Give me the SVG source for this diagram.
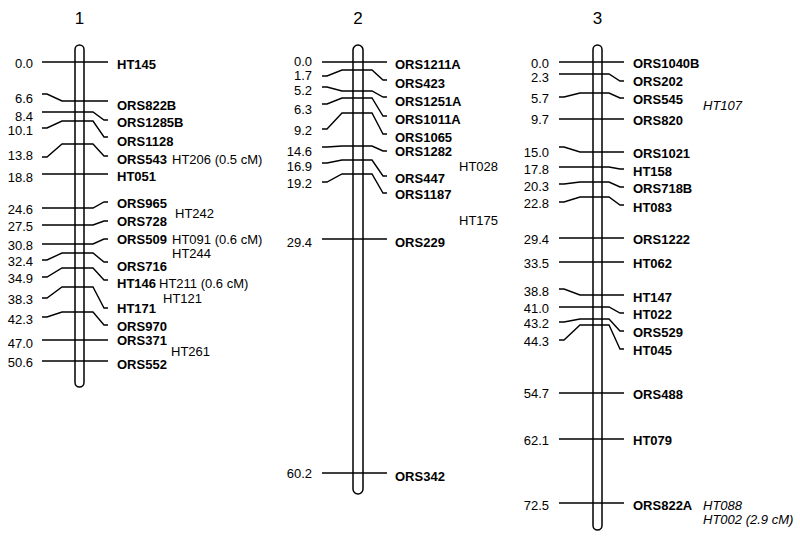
<svg xmlns="http://www.w3.org/2000/svg" width="800" height="536" viewBox="0 0 800 536">
<style>
text{font-family:"Liberation Sans",Arial,sans-serif;font-size:13px;fill:#000}
.t{font-size:17px;text-anchor:middle}
.v{text-anchor:end}
.n{font-weight:bold}
.i{font-style:italic}
.bar{fill:#fff;stroke:#000;stroke-width:1.5}
.ln{fill:none;stroke:#000;stroke-width:1.4}
</style>
<rect width="800" height="536" fill="#fff"/>
<g id="chr1">
<text class="t" x="79.5" y="24">1</text>
<rect class="bar" x="75" y="45" width="9" height="342" rx="4.5"/>
</g>
<g id="chr2">
<text class="t" x="358" y="24">2</text>
<rect class="bar" x="353" y="45" width="10" height="449" rx="5"/>
</g>
<g id="chr3">
<text class="t" x="597.5" y="24">3</text>
<rect class="bar" x="593" y="45" width="9" height="485" rx="4.5"/>
</g>
<g id="connectors">
<path class="ln" d="M42,62H108"/>
<path class="ln" d="M42,94H47L62,101H108"/>
<path class="ln" d="M42,112H93L104,120H108"/>
<path class="ln" d="M42,128H47L62,121H93L104,137H108"/>
<path class="ln" d="M42,157H47L62,144H93L104,156H108"/>
<path class="ln" d="M42,174H108"/>
<path class="ln" d="M42,208H93L104,202H108"/>
<path class="ln" d="M42,225H93L104,221H108"/>
<path class="ln" d="M42,244H93L104,239H108"/>
<path class="ln" d="M42,260H47L62,253H93L104,262H108"/>
<path class="ln" d="M42,277H47L62,268H93L104,280H108"/>
<path class="ln" d="M42,298H47L62,287H93L104,308H108"/>
<path class="ln" d="M42,317H47L62,312H93L104,325H108"/>
<path class="ln" d="M42,340H108"/>
<path class="ln" d="M42,361H108"/>

<path class="ln" d="M322,62H387"/>
<path class="ln" d="M322,76H327L342,70H372L383,80H387"/>
<path class="ln" d="M322,87H327L342,91H372L383,97H387"/>
<path class="ln" d="M322,104H327L342,98H372L383,116H387"/>
<path class="ln" d="M322,129H327L342,113H372L383,134H387"/>
<path class="ln" d="M322,147H327L342,146H372L383,151H387"/>
<path class="ln" d="M322,163H327L342,160H372L383,176H387"/>
<path class="ln" d="M322,182H327L342,174H372L383,193H387"/>
<path class="ln" d="M322,239H387"/>
<path class="ln" d="M322,473H387"/>

<path class="ln" d="M559,62H624"/>
<path class="ln" d="M559,74H609L620,81H624"/>
<path class="ln" d="M559,97H564L580,93H609L620,98H624"/>
<path class="ln" d="M559,119H624"/>
<path class="ln" d="M559,147H564L580,152H624"/>
<path class="ln" d="M559,167H609L620,169H624"/>
<path class="ln" d="M559,184H564L580,182H609L620,187H624"/>
<path class="ln" d="M559,202H564L580,197H609L620,205H624"/>
<path class="ln" d="M559,238H624"/>
<path class="ln" d="M559,262H624"/>
<path class="ln" d="M559,289H564L580,295H624"/>
<path class="ln" d="M559,307H609L620,313H624"/>
<path class="ln" d="M559,322H564L580,319H609L620,331H624"/>
<path class="ln" d="M559,340H564L580,325H609L620,349H624"/>
<path class="ln" d="M559,393H624"/>
<path class="ln" d="M559,439H624"/>
<path class="ln" d="M559,503H624"/>
</g>
<g id="labels1">
<text class="v" x="33" y="67.5">0.0</text>
<text class="v" x="33" y="102.5">6.6</text>
<text class="v" x="33" y="120.5">8.4</text>
<text class="v" x="33" y="134.5">10.1</text>
<text class="v" x="33" y="159.5">13.8</text>
<text class="v" x="33" y="181.5">18.8</text>
<text class="v" x="33" y="213.5">24.6</text>
<text class="v" x="33" y="230.5">27.5</text>
<text class="v" x="33" y="249.5">30.8</text>
<text class="v" x="33" y="265.5">32.4</text>
<text class="v" x="33" y="282.5">34.9</text>
<text class="v" x="33" y="303.5">38.3</text>
<text class="v" x="33" y="323.5">42.3</text>
<text class="v" x="33" y="347.5">47.0</text>
<text class="v" x="33" y="366.5">50.6</text>
<text class="n" x="117" y="68.5">HT145</text>
<text class="n" x="117" y="109.5">ORS822B</text>
<text class="n" x="117" y="126.5">ORS1285B</text>
<text class="n" x="117" y="145.5">ORS1128</text>
<text class="n" x="117" y="163.5">ORS543</text>
<text x="172" y="163.5">HT206 (0.5 cM)</text>
<text class="n" x="117" y="180.5">HT051</text>
<text class="n" x="117" y="207.5">ORS965</text>
<text x="175" y="217.5">HT242</text>
<text class="n" x="117" y="225.5">ORS728</text>
<text class="n" x="117" y="243.5">ORS509</text>
<text x="172" y="243.5">HT091 (0.6 cM)</text>
<text x="172" y="257.5">HT244</text>
<text class="n" x="117" y="270.5">ORS716</text>
<text class="n" x="117" y="287.5">HT146</text>
<text x="159" y="287.5">HT211 (0.6 cM)</text>
<text x="163" y="302.5">HT121</text>
<text class="n" x="117" y="312.5">HT171</text>
<text class="n" x="117" y="330.5">ORS970</text>
<text class="n" x="117" y="344.5">ORS371</text>
<text x="171" y="355.5">HT261</text>
<text class="n" x="117" y="368.5">ORS552</text>
</g>
<g id="labels2">
<text class="v" x="312" y="65.5">0.0</text>
<text class="v" x="312" y="79.5">1.7</text>
<text class="v" x="312" y="94.5">5.2</text>
<text class="v" x="312" y="113.5">6.3</text>
<text class="v" x="312" y="134.5">9.2</text>
<text class="v" x="312" y="155.5">14.6</text>
<text class="v" x="312" y="170.5">16.9</text>
<text class="v" x="312" y="187.5">19.2</text>
<text class="v" x="312" y="246.5">29.4</text>
<text class="v" x="312" y="477.5">60.2</text>
<text class="n" x="395" y="68.5">ORS1211A</text>
<text class="n" x="395" y="87.5">ORS423</text>
<text class="n" x="395" y="105.5">ORS1251A</text>
<text class="n" x="395" y="123.5">ORS1011A</text>
<text class="n" x="395" y="141.5">ORS1065</text>
<text class="n" x="395" y="155.5">ORS1282</text>
<text x="459" y="170.5">HT028</text>
<text class="n" x="395" y="182.5">ORS447</text>
<text class="n" x="395" y="198.5">ORS1187</text>
<text x="459" y="224.5">HT175</text>
<text class="n" x="395" y="246.5">ORS229</text>
<text class="n" x="395" y="480.5">ORS342</text>
</g>
<g id="labels3">
<text class="v" x="549" y="67.5">0.0</text>
<text class="v" x="549" y="81.5">2.3</text>
<text class="v" x="549" y="102.5">5.7</text>
<text class="v" x="549" y="123.5">9.7</text>
<text class="v" x="549" y="156.5">15.0</text>
<text class="v" x="549" y="173.5">17.8</text>
<text class="v" x="549" y="190.5">20.3</text>
<text class="v" x="549" y="207.5">22.8</text>
<text class="v" x="549" y="243.5">29.4</text>
<text class="v" x="549" y="267.5">33.5</text>
<text class="v" x="549" y="295.5">38.8</text>
<text class="v" x="549" y="312.5">41.0</text>
<text class="v" x="549" y="327.5">43.2</text>
<text class="v" x="549" y="345.5">44.3</text>
<text class="v" x="549" y="397.5">54.7</text>
<text class="v" x="549" y="444.5">62.1</text>
<text class="v" x="549" y="509.5">72.5</text>
<text class="n" x="633" y="67.5">ORS1040B</text>
<text class="n" x="633" y="85.5">ORS202</text>
<text class="n" x="633" y="103.5">ORS545</text>
<text class="i" x="703" y="109.5">HT107</text>
<text class="n" x="633" y="124.5">ORS820</text>
<text class="n" x="633" y="157.5">ORS1021</text>
<text class="n" x="633" y="175.5">HT158</text>
<text class="n" x="633" y="192.5">ORS718B</text>
<text class="n" x="633" y="211.5">HT083</text>
<text class="n" x="633" y="243.5">ORS1222</text>
<text class="n" x="633" y="267.5">HT062</text>
<text class="n" x="633" y="301.5">HT147</text>
<text class="n" x="633" y="318.5">HT022</text>
<text class="n" x="633" y="336.5">ORS529</text>
<text class="n" x="633" y="354.5">HT045</text>
<text class="n" x="633" y="398.5">ORS488</text>
<text class="n" x="633" y="444.5">HT079</text>
<text class="n" x="633" y="509.5">ORS822A</text>
<text class="i" x="703" y="509.5">HT088</text>
<text class="i" x="703" y="523.5">HT002 (2.9 cM)</text>
</g>
</svg>
